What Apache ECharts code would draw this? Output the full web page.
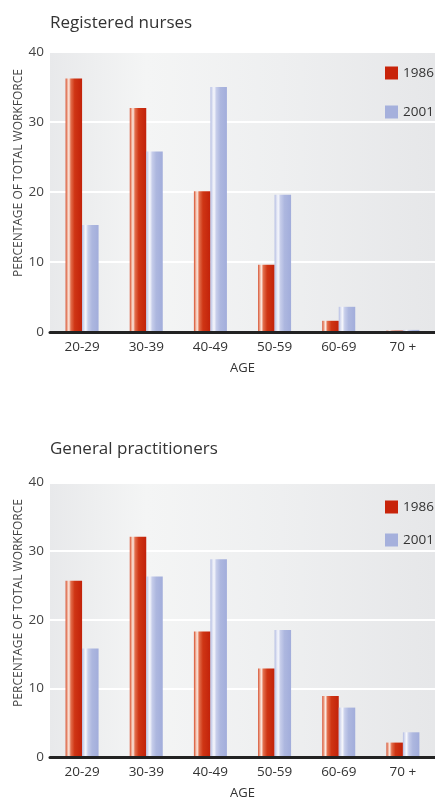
<!DOCTYPE html>
<html>
<head>
<meta charset="utf-8">
<script src="https://cdn.jsdelivr.net/npm/echarts@6/dist/echarts.min.js"></script>
<style>
  html, body { margin: 0; padding: 0; background: #fff; }
  #chart { width: 435px; height: 801px; }
</style>
</head>
<body>
<div id="chart"></div>
<script>
// Age bands on the horizontal axis
const ageGroups = ['20-29', '30-39', '40-49', '50-59', '60-69', '70 +'];
const years = ['1986', '2001'];
const yTicks = [0, 10, 20, 30, 40];

// Share of total workforce (%) per age band
const nurses1986 = [36.2, 32.0, 20.1, 9.6, 1.6, 0.2];
const nurses2001 = [15.3, 25.8, 35.0, 19.6, 3.6, 0.3];
const gp1986 = [25.7, 32.1, 18.3, 12.9, 8.9, 2.1];
const gp2001 = [15.8, 26.3, 28.8, 18.5, 7.2, 3.6];

const panelTitles = ['Registered nurses', 'General practitioners'];
const yName = 'PERCENTAGE OF TOTAL WORKFORCE';
const xName = 'AGE';

const FONT = '"Open Sans", "Noto Sans", sans-serif';
const RED = '#c8240a';
const BLUE = '#a5b0dc';

// Cylinder-like shading for the bars
function shade(stops) {
  return new echarts.graphic.LinearGradient(0, 0, 1, 0,
    stops.map(s => ({ offset: s[0], color: s[1] })));
}
const redFill = shade([[0, '#d44a2a'], [0.1, '#eea58c'], [0.2, '#fcebe3'], [0.32, '#e26e4c'], [0.55, '#cf3514'], [1, '#c2220a']]);
const blueFill = shade([[0, '#b3bce2'], [0.12, '#dde1f2'], [0.22, '#f6f7fc'], [0.36, '#c6cdea'], [0.6, '#adb7df'], [1, '#a2addb']]);

const plotBg = new echarts.graphic.LinearGradient(0, 0, 1, 0, [
  { offset: 0, color: '#e8e9eb' },
  { offset: 0.25, color: '#f4f5f5' },
  { offset: 0.6, color: '#eeeff0' },
  { offset: 1, color: '#e6e7e9' }
]);

const grids = [
  { left: 50, top: 52, width: 393, height: 280 },
  { left: 50, top: 482.5, width: 393, height: 279.5 }
];

const legendItems = years.map((y, i) => ({ name: y, itemStyle: { color: i === 0 ? RED : BLUE } }));
function legendAt(top, gap) {
  return {
    data: legendItems, orient: 'vertical', left: 380, top: top,
    itemWidth: 13, itemHeight: 13, itemGap: gap, icon: 'rect',
    textStyle: { fontSize: 13.5, color: '#333', fontFamily: FONT },
    selectedMode: false
  };
}

const chart = echarts.init(document.getElementById('chart'), null, { renderer: 'canvas' });

const option = {
  animation: false,
  textStyle: { fontFamily: FONT },
  grid: grids.map(g => Object.assign({ show: true, backgroundColor: plotBg, borderWidth: 0 }, g)),
  legend: [legendAt(61, 25), legendAt(495, 19)],
  xAxis: [0, 1].map(i => ({
    type: 'category', gridIndex: i, data: ageGroups,
    axisLine: { show: true, lineStyle: { color: '#222', width: 3 } },
    axisTick: { show: false },
    axisLabel: { fontSize: 13.5, color: '#333', margin: 8, fontFamily: FONT },
    name: xName, nameLocation: 'middle', nameGap: 30,
    nameTextStyle: { fontSize: 13, color: '#333', fontFamily: FONT },
    z: 5
  })),
  yAxis: [0, 1].map(i => ({
    type: 'value', gridIndex: i, min: yTicks[0], max: yTicks[yTicks.length - 1], interval: 10,
    axisLine: { show: false }, axisTick: { show: false },
    axisLabel: { fontSize: 13.5, color: '#444', margin: 6, fontFamily: FONT },
    splitLine: { show: true, lineStyle: { color: '#ffffff', width: 2 } }
  })),
  series: [
    { name: years[0], type: 'bar', xAxisIndex: 0, yAxisIndex: 0, data: nurses1986 },
    { name: years[1], type: 'bar', xAxisIndex: 0, yAxisIndex: 0, data: nurses2001 },
    { name: years[0], type: 'bar', xAxisIndex: 1, yAxisIndex: 1, data: gp1986 },
    { name: years[1], type: 'bar', xAxisIndex: 1, yAxisIndex: 1, data: gp2001 }
  ].map((s, k) => Object.assign(s, {
    barWidth: 16.5, barGap: '0%',
    itemStyle: { color: k % 2 === 0 ? redFill : blueFill }
  })),
  graphic: [
    { type: 'text', left: 50, top: 15, style: { text: panelTitles[0], font: '17px ' + FONT, fill: '#333' } },
    { type: 'text', left: 50, top: 441, style: { text: panelTitles[1], font: '17px ' + FONT, fill: '#333' } },
    { type: 'text', x: 19, y: 173, rotation: Math.PI / 2,
      style: { text: yName, font: '12px ' + FONT, fill: '#444', align: 'center', verticalAlign: 'middle' } },
    { type: 'text', x: 19, y: 603, rotation: Math.PI / 2,
      style: { text: yName, font: '12px ' + FONT, fill: '#444', align: 'center', verticalAlign: 'middle' } }
  ]
};

chart.setOption(option);
</script>
</body>
</html>
